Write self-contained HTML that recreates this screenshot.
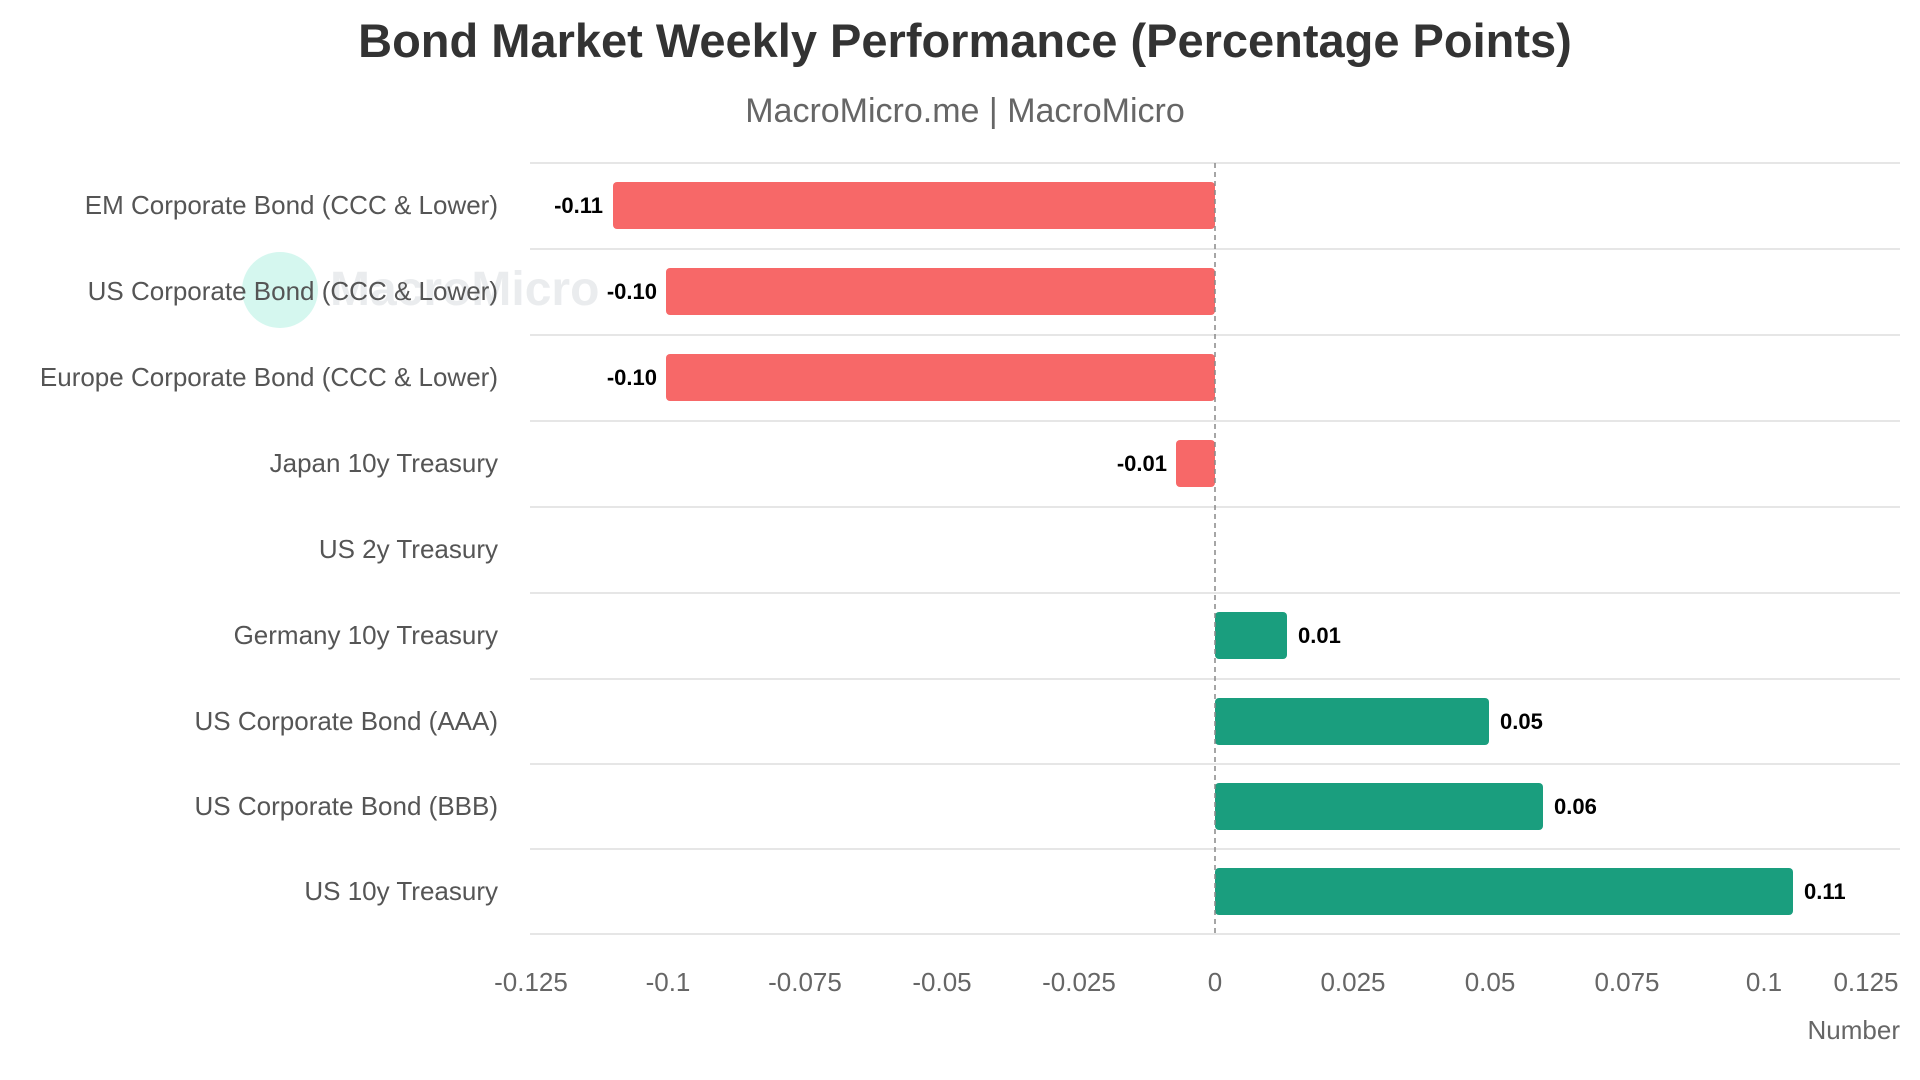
<!DOCTYPE html>
<html><head><meta charset="utf-8"><style>
html,body{margin:0;padding:0;background:#fff;}
svg{display:block;font-family:"Liberation Sans",sans-serif;}
</style></head><body>
<svg width="1920" height="1080" viewBox="0 0 1920 1080" xmlns="http://www.w3.org/2000/svg">
<text x="965" y="57" text-anchor="middle" font-size="47" font-weight="bold" fill="#333">Bond Market Weekly Performance (Percentage Points)</text>
<text x="965" y="122" text-anchor="middle" font-size="34" fill="#666">MacroMicro.me | MacroMicro</text>
<!-- watermark -->
<circle cx="280" cy="290" r="38" fill="#d5f7ef"/>
<text x="330" y="305" font-size="48" font-weight="bold" fill="#e6e8ea" opacity="0.8">MacroMicro</text>
<g stroke="#e6e6e6" stroke-width="2">
<line x1="530" y1="163" x2="1900" y2="163"/>
<line x1="530" y1="249" x2="1900" y2="249"/>
<line x1="530" y1="335" x2="1900" y2="335"/>
<line x1="530" y1="421" x2="1900" y2="421"/>
<line x1="530" y1="507" x2="1900" y2="507"/>
<line x1="530" y1="593" x2="1900" y2="593"/>
<line x1="530" y1="679" x2="1900" y2="679"/>
<line x1="530" y1="764" x2="1900" y2="764"/>
<line x1="530" y1="849" x2="1900" y2="849"/>
<line x1="530" y1="934" x2="1900" y2="934"/>
</g>
<g>
<rect x="613" y="182" width="602" height="47" rx="4" fill="#f76868"/>
<rect x="666" y="268" width="549" height="47" rx="4" fill="#f76868"/>
<rect x="666" y="354" width="549" height="47" rx="4" fill="#f76868"/>
<rect x="1176" y="440" width="39" height="47" rx="4" fill="#f76868"/>
<rect x="1215" y="612" width="72" height="47" rx="4" fill="#1a9e7e"/>
<rect x="1215" y="698" width="274" height="47" rx="4" fill="#1a9e7e"/>
<rect x="1215" y="783" width="328" height="47" rx="4" fill="#1a9e7e"/>
<rect x="1215" y="868" width="578" height="47" rx="4" fill="#1a9e7e"/>
</g>
<line x1="1215" y1="163" x2="1215" y2="934" stroke="#888" stroke-width="1.5" stroke-dasharray="5,4"/>
<g font-size="22" font-weight="bold" fill="#000">
<text x="603" y="213" text-anchor="end">-0.11</text>
<text x="657" y="299" text-anchor="end">-0.10</text>
<text x="657" y="385" text-anchor="end">-0.10</text>
<text x="1167" y="471" text-anchor="end">-0.01</text>
<text x="1298" y="643">0.01</text>
<text x="1500" y="729">0.05</text>
<text x="1554" y="814">0.06</text>
<text x="1804" y="899">0.11</text>
</g>
<g font-size="26" fill="#555" text-anchor="end">
<text x="498" y="214">EM Corporate Bond (CCC &amp; Lower)</text>
<text x="498" y="300">US Corporate Bond (CCC &amp; Lower)</text>
<text x="498" y="386">Europe Corporate Bond (CCC &amp; Lower)</text>
<text x="498" y="472">Japan 10y Treasury</text>
<text x="498" y="558">US 2y Treasury</text>
<text x="498" y="644">Germany 10y Treasury</text>
<text x="498" y="730">US Corporate Bond (AAA)</text>
<text x="498" y="815">US Corporate Bond (BBB)</text>
<text x="498" y="900">US 10y Treasury</text>
</g>
<g font-size="26" fill="#666" text-anchor="middle">
<text x="531" y="991">-0.125</text>
<text x="668" y="991">-0.1</text>
<text x="805" y="991">-0.075</text>
<text x="942" y="991">-0.05</text>
<text x="1079" y="991">-0.025</text>
<text x="1215" y="991">0</text>
<text x="1353" y="991">0.025</text>
<text x="1490" y="991">0.05</text>
<text x="1627" y="991">0.075</text>
<text x="1764" y="991">0.1</text>
<text x="1866" y="991">0.125</text>
</g>
<text x="1900" y="1039" text-anchor="end" font-size="26" fill="#666">Number</text>
</svg>
</body></html>
